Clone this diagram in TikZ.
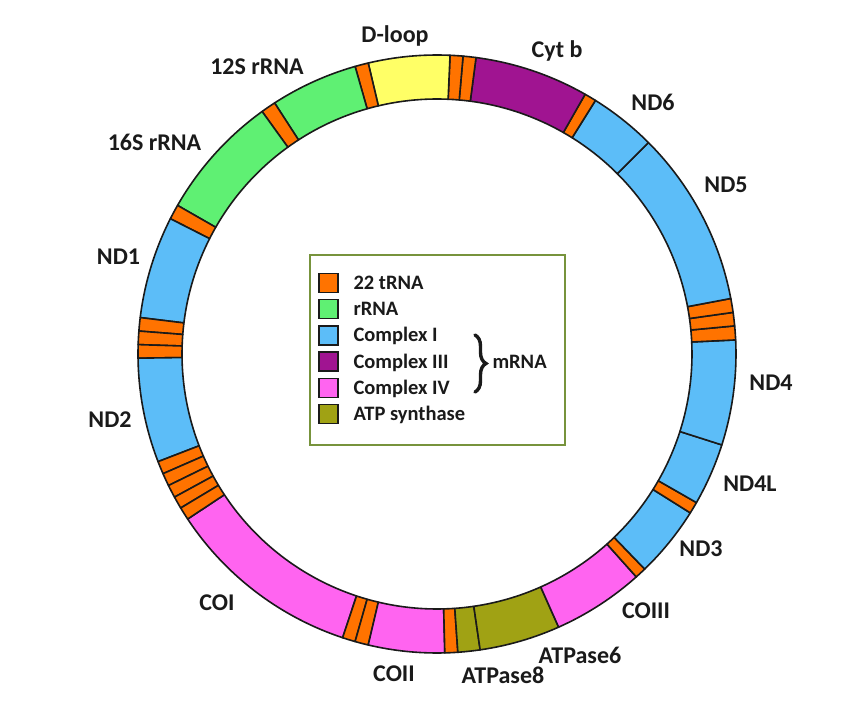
\documentclass[tikz,border=0pt]{standalone}
\usepackage{fontspec}
\setmainfont{Carlito}
\usetikzlibrary{decorations.pathreplacing}

\definecolor{mtink}{HTML}{1A1A1A}
\definecolor{mtorange}{HTML}{FF7300}
\definecolor{mtgreen}{HTML}{5FF073}
\definecolor{mtyellow}{HTML}{FFFF66}
\definecolor{mtpurple}{HTML}{A01491}
\definecolor{mtblue}{HTML}{5CBDF8}
\definecolor{mtpink}{HTML}{FF64F0}
\definecolor{mtolive}{HTML}{A0A214}
\definecolor{mtframe}{HTML}{77933C}

\begin{document}
\begin{tikzpicture}[
  x=1pt,y=1pt,
  font=\bfseries\fontsize{24}{28}\selectfont,
  seg/.style={draw=mtink,line width=1.6pt,line join=round},
  lab/.style={text=mtink,anchor=base},
  keybox/.style={draw=mtink,line width=1.4pt},
  entry/.style={text=mtink,anchor=base west,font=\bfseries\fontsize{20.5}{24}\selectfont},
  frame/.style={draw=mtframe,line width=2pt,fill=white}
]
  \path[use as bounding box,fill=white] (-437,-360) rectangle (429,354);
  % ring segments, counterclockwise
  \foreach \a/\b/\c in {
      -146.5/-108.4/mtpink,-108.4/-105.9/mtorange,-105.9/-103.3/mtorange,
      -103.3/-88.5/mtpink,-88.5/-86/mtorange,-86/-81.7/mtolive,
      -81.7/-66/mtolive,-66/-48.2/mtpink,-48.2/-46/mtorange,
      -46/-32.1/mtblue,-32.1/-29.8/mtorange,-29.8/-17.7/mtblue,
      -17.7/2.7/mtblue,2.7/5.4/mtorange,5.4/8.0/mtorange,8.0/10.7/mtorange,
      10.7/45/mtblue,45/58/mtblue,58/60.3/mtorange,60.3/82.5/mtpurple,
      82.5/85/mtorange,85/87.5/mtorange,87.5/103.3/mtyellow,
      103.3/105.9/mtorange,105.9/122.9/mtgreen,122.9/125.8/mtorange,
      125.8/150.2/mtgreen,150.2/153.1/mtorange,153.1/173/mtblue,
      173/175.6/mtorange,175.6/178.2/mtorange,178.2/180.8/mtorange,
      180.8/201.1/mtblue,201.1/203.6/mtorange,203.6/206.1/mtorange,
      206.1/208.6/mtorange,208.6/211.0/mtorange,211.0/213.5/mtorange}{
    \draw[seg,fill=\c] (\a:255) arc[start angle=\a,end angle=\b,radius=255]
      -- (\b:299) arc[start angle=\b,end angle=\a,radius=299] -- cycle;
  }
  % gene labels
  \node[lab] (dloop) at (-42,311) {D-loop};
  \node[lab] (cytb) at (120,296) {Cyt b};
  \node[lab] (rrna12) at (-180,279) {12S rRNA};
  \node[lab] (rrna16) at (-282.5,203) {16S rRNA};
  \node[lab] (nd1) at (-318.5,89) {ND1};
  \node[lab] (nd2) at (-327,-74) {ND2};
  \node[lab] (co1) at (-220,-256) {COI};
  \node[lab] (co2) at (-43,-327) {COII};
  \node[lab] (atp8) at (66,-329) {ATPase8};
  \node[lab] (atp6) at (143,-309) {ATPase6};
  \node[lab] (co3) at (209,-264) {COIII};
  \node[lab] (nd3) at (264,-202) {ND3};
  \node[lab] (nd4l) at (313,-137) {ND4L};
  \node[lab] (nd4) at (334,-37) {ND4};
  \node[lab] (nd5) at (289,161) {ND5};
  \node[lab] (nd6) at (216,243) {ND6};
  % legend
  \draw[frame] (-127,-91) rectangle (128,99);
  \foreach \y/\c/\t/\n in {71/mtorange/{22 tRNA}/ktrna,44.8/mtgreen/rRNA/krrna,
      18.6/mtblue/{Complex I}/kci,-7.6/mtpurple/{Complex III}/kciii,
      -33.8/mtpink/{Complex IV}/kciv,-60/mtolive/{ATP synthase}/katp}{
    \draw[keybox,fill=\c] (-118,\y-9.5) rectangle ++(19,19);
    \node[entry] (\n) at (-87,\y-6.6) {\t};
  }
  \coordinate (bracetop) at (38,19);
  \coordinate (bracebot) at (38,-38);
  \draw[mtink,line width=3.4pt,line cap=round,decorate,
        decoration={brace,amplitude=11pt}]
    (bracetop) -- (bracebot);
  \node[entry] (mrna) at (52,-8-6.6) {mRNA};
\end{tikzpicture}
\end{document}
